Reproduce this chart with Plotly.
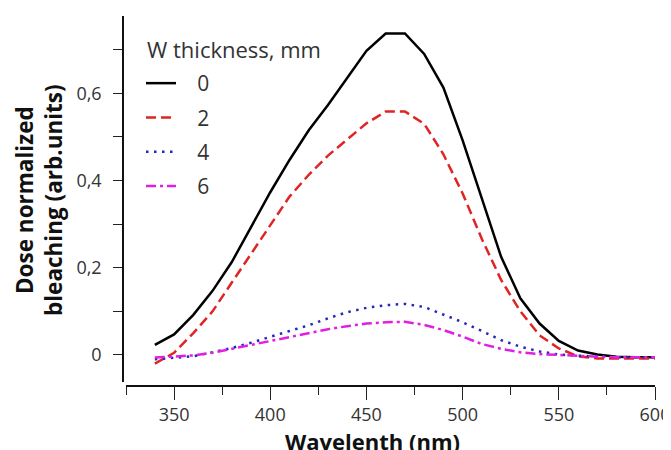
import plotly.graph_objects as go

wavelength = [340, 350, 360, 370, 380, 390, 400, 410, 420, 430, 440, 450, 460, 470,
              480, 490, 500, 510, 520, 530, 540, 550, 560, 570, 580, 590, 600]

w0 = [0.023, 0.047, 0.092, 0.147, 0.213, 0.292, 0.373, 0.447, 0.515, 0.573, 0.634, 0.697, 0.737, 0.737,
      0.690, 0.613, 0.492, 0.357, 0.225, 0.130, 0.072, 0.032, 0.010, 0.001, -0.004, -0.005, -0.005]
w2 = [-0.020, 0.005, 0.050, 0.100, 0.166, 0.232, 0.299, 0.363, 0.413, 0.457, 0.494, 0.531, 0.558, 0.558,
      0.530, 0.460, 0.370, 0.266, 0.172, 0.100, 0.045, 0.015, -0.003, -0.008, -0.008, -0.008, -0.008]
w4 = [-0.010, -0.007, -0.003, 0.006, 0.016, 0.028, 0.042, 0.055, 0.068, 0.084, 0.098, 0.108, 0.114, 0.117,
      0.110, 0.093, 0.075, 0.055, 0.034, 0.019, 0.008, 0.001, -0.002, -0.004, -0.005, -0.005, -0.005]
w6 = [-0.006, -0.003, -0.001, 0.005, 0.014, 0.023, 0.033, 0.041, 0.050, 0.059, 0.066, 0.072, 0.075, 0.076,
      0.069, 0.057, 0.042, 0.025, 0.014, 0.006, 0.002, 0.000, -0.003, -0.004, -0.005, -0.005, -0.005]

series_names = ["0", "2", "4", "6"]
series_values = [w0, w2, w4, w6]
series_colors = ["#000000", "#e02424", "#2626b8", "#e020e0"]
series_dash = ["solid", "10px,5px", "2.5px,5.5px", "10px,4px,3px,4px"]

legend_title = "W thickness, mm"
x_title = "Wavelenth (nm)"
y_title = "Dose normalized<br>bleaching (arb.units)"

x_ticks = [350, 400, 450, 500, 550, 600]
y_ticks = [0, 0.2, 0.4, 0.6]
y_tick_text = ["0", "0,2", "0,4", "0,6"]

FONT = "Open Sans"
NB = "\u00a0"

fig = go.Figure()
for i, (name, vals, col, dash) in enumerate(zip(series_names, series_values, series_colors, series_dash)):
    fig.add_trace(go.Scatter(
        x=wavelength, y=vals, mode="lines", name=NB * 3 + name,
        legendgroup=f"g{i}",
        line=dict(color=col, width=2.5, dash=dash),
    ))

# the page body adds an 8px offset at top-left; work in screen pixels
OFF = 8
W, H = 671 - OFF, 450 - OFF
ml, mr, mt, mb = 123 - OFF, 16, 16 - OFF, 64
pw = W - ml - mr
ph = H - mt - mb

def px_x(p):
    return (p - OFF - ml) / pw

def px_y(p):
    return 1 - (p - OFF - mt) / ph

fig.update_layout(
    width=W, height=H,
    margin=dict(l=ml, r=mr, t=mt, b=mb, autoexpand=False),
    plot_bgcolor="white", paper_bgcolor="white",
    separators=", ",
    font=dict(family=FONT, color="#333333", size=18),
    showlegend=True,
    legend=dict(
        x=px_x(141), y=px_y(63), xanchor="left", yanchor="top",
        bgcolor="rgba(0,0,0,0)",
        font=dict(family=FONT, size=21, color="#333333"),
        tracegroupgap=4,
        itemwidth=30,
    ),
    xaxis=dict(
        domain=[3 / pw, 1],
        anchor="free", position=0, automargin=False,
        range=[325, 600],
        tickvals=x_ticks,
        ticks="outside", ticklen=13, tickwidth=1.3, tickcolor="#222",
        showline=True, linecolor="#111", linewidth=1.5,
        showgrid=False, zeroline=False,
        ticklabeloverflow="allow",
        tickfont=dict(family=FONT, size=18, color="#333333"),
        minor=dict(tickmode="linear", tick0=325, dtick=25, ticks="outside", ticklen=8,
                   tickwidth=1.3, tickcolor="#222", showgrid=False),
    ),
    yaxis=dict(
        domain=[4 / ph, 1],
        anchor="free", position=0, automargin=False,
        range=[-0.062, 0.777],
        tickvals=y_ticks, ticktext=y_tick_text,
        ticks="outside", ticklen=9, tickwidth=1.3, tickcolor="#222",
        showline=True, linecolor="#111", linewidth=1.5,
        showgrid=False, zeroline=False,
        tickfont=dict(family=FONT, size=18, color="#333333"),
        ticklabelstandoff=8,
        minor=dict(tickmode="linear", tick0=0.1, dtick=0.2, ticks="outside", ticklen=9,
                   tickwidth=1.3, tickcolor="#222", showgrid=False),
    ),
)

fig.add_annotation(
    text=legend_title, xref="paper", yref="paper",
    x=px_x(145), y=px_y(49),
    xanchor="left", yanchor="middle", showarrow=False,
    font=dict(family=FONT, size=22, color="#333333"),
)

fig.add_annotation(
    text="<b>" + x_title + "</b>", xref="paper", yref="paper",
    x=px_x(372), y=px_y(424),
    xanchor="center", yanchor="top", showarrow=False,
    font=dict(family=FONT, size=22, color="#111111"),
)

fig.add_annotation(
    text="<b>" + y_title + "</b>", xref="paper", yref="paper",
    x=px_x(39), y=px_y(200),
    xanchor="center", yanchor="middle", showarrow=False, textangle=-90,
    font=dict(family=FONT, size=22.5, color="#111111"),
)

fig.write_html("out.html")
